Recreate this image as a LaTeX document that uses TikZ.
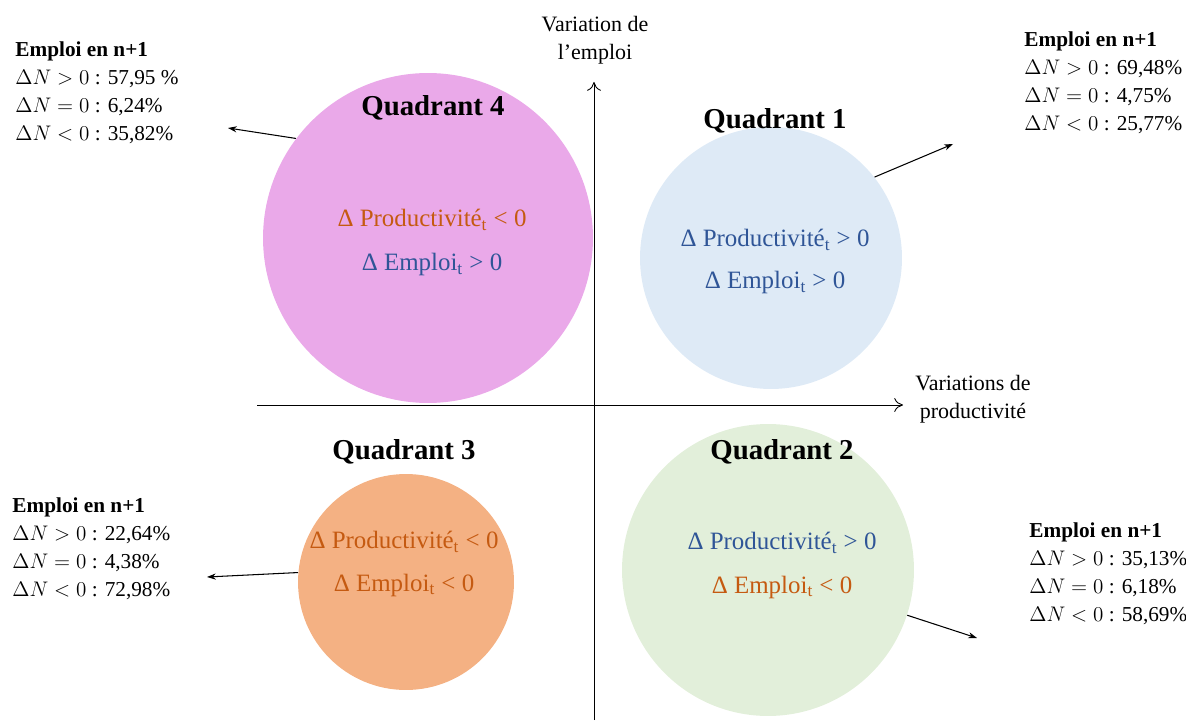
\documentclass[tikz,border=0pt]{standalone}
\usepackage{fontspec}
\setmainfont{Liberation Serif}
\usetikzlibrary{arrows.meta,positioning}
\definecolor{qpink}{HTML}{EAA9E9}
\definecolor{qblue}{HTML}{DEEAF6}
\definecolor{qorange}{HTML}{F4B183}
\definecolor{qgreen}{HTML}{E2EFDA}
\definecolor{txtorange}{HTML}{C55A11}
\definecolor{txtblue}{HTML}{2F5597}

\begin{document}
\begin{tikzpicture}[x=0.02cm, y=-0.02cm, line width=.5pt,
    quad/.style={circle, inner sep=0pt, draw=none},
    qtitle/.style={font=\fontsize{16.4}{19}\selectfont\bfseries},
    qtext/.style={font=\fontsize{14.2}{17}\selectfont},
    stats/.style={anchor=west, align=left, inner sep=0pt, font=\fontsize{12.1}{15.9}\selectfont},
    axlabel/.style={align=center, inner sep=0pt, font=\fontsize{12.5}{15.9}\selectfont},
    link/.style={-{Stealth[length=5pt,width=3.5pt]}, line width=.6pt}]
    \useasboundingbox (0,0) rectangle (1186,722);
    % circles
    \node[quad, fill=qpink, minimum size=6.6cm] (q4) at (428,238) {};
    \node[quad, fill=qblue, minimum size=5.24cm] (q1) at (771,258) {};
    \node[quad, fill=qorange, minimum size=4.32cm] (q3) at (406,582) {};
    \node[quad, fill=qgreen, minimum size=5.84cm] (q2) at (768,570) {};
    % axes
    \coordinate (ybot) at (594,720);
    \coordinate (ytop) at (594,82);
    \coordinate (xleft) at (257,405);
    \coordinate (xright) at (903,405);
    \draw[-{To[length=5pt,width=8pt]}] (ybot) -- (ytop);
    \draw[-{To[length=5pt,width=8pt]}] (xleft) -- (xright);
    \node[axlabel] (ylab) at (595,40) {Variation de\\l’emploi};
    \node[axlabel] (xlab) at (973,399) {Variations de\\productivité};
    % quadrant titles
    \node[qtitle] (t4) at (433,108) {Quadrant 4};
    \node[qtitle] (t1) at (775,121) {Quadrant 1};
    \node[qtitle] (t3) at (404,452) {Quadrant 3};
    \node[qtitle] (t2) at (782,452) {Quadrant 2};
    % texts in circles
    \node[qtext, text=txtorange] (p4) at (432,220) {Δ Productivité\textsubscript{t} < 0};
    \node[qtext, text=txtblue] (e4) at (432,265) {Δ Emploi\textsubscript{t} > 0};
    \node[qtext, text=txtblue] (p1) at (775,240) {Δ Productivité\textsubscript{t} > 0};
    \node[qtext, text=txtblue] (e1) at (775,283) {Δ Emploi\textsubscript{t} > 0};
    \node[qtext, text=txtorange] (p3) at (404,542) {Δ Productivité\textsubscript{t} < 0};
    \node[qtext, text=txtorange] (e3) at (404,585) {Δ Emploi\textsubscript{t} < 0};
    \node[qtext, text=txtblue] (p2) at (782,543) {Δ Productivité\textsubscript{t} > 0};
    \node[qtext, text=txtorange] (e2) at (782,587) {Δ Emploi\textsubscript{t} < 0};
    % employment in n+1
    \node[stats] (s4) at (15,93) {\textbf{Emploi en n+1}\\$\Delta N > 0$ : 57,95 \%\\$\Delta N = 0$ : 6,24\%\\$\Delta N < 0$ : 35,82\%};
    \node[stats] (s1) at (1024,83) {\textbf{Emploi en n+1}\\$\Delta N > 0$ : 69,48\%\\$\Delta N = 0$ : 4,75\%\\$\Delta N < 0$ : 25,77\%};
    \node[stats] (s3) at (12,549) {\textbf{Emploi en n+1}\\$\Delta N > 0$ : 22,64\%\\$\Delta N = 0$ : 4,38\%\\$\Delta N < 0$ : 72,98\%};
    \node[stats] (s2) at (1029,574) {\textbf{Emploi en n+1}\\$\Delta N > 0$ : 35,13\%\\$\Delta N = 0$ : 6,18\%\\$\Delta N < 0$ : 58,69\%};
    \coordinate (a4) at (228,128);
    \coordinate (a1) at (953,144);
    \coordinate (a3) at (207,577);
    \coordinate (a2) at (977,638);
    \draw[link] (q4.143) -- (a4);
    \draw[link] (q1.38) -- (a1);
    \draw[link] (q3.175) -- (a3);
    \draw[link] (q2.-18) -- (a2);
\end{tikzpicture}
\end{document}
